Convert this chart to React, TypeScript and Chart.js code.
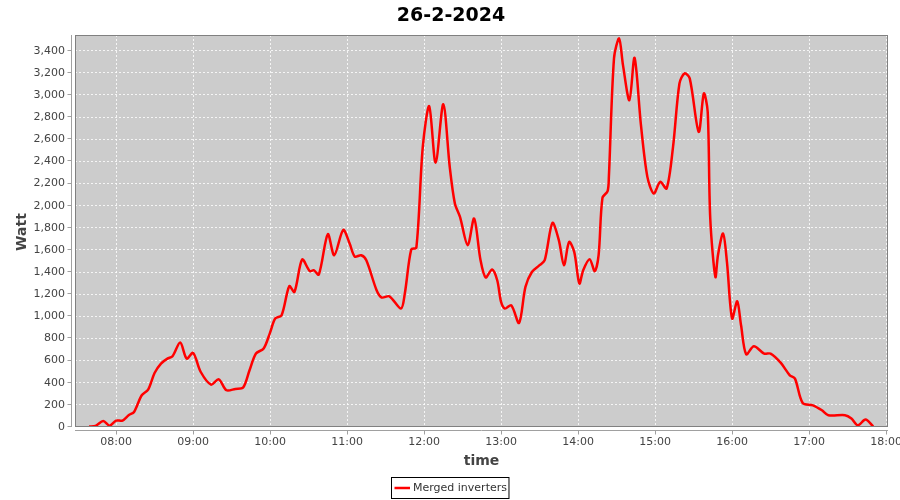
import React, { useEffect, useRef } from "react";
import { Chart, registerables } from "chart.js";

Chart.register(...registerables);

const TITLE = "26-2-2024";
const SERIES_LABEL = "Merged inverters";
const X_TITLE = "time";
const Y_TITLE = "Watt";

const times = [
  "07:39", "07:44", "07:50", "07:55", "08:00", "08:05", "08:10", "08:14", "08:20", "08:25",
  "08:30", "08:35", "08:40", "08:44", "08:50", "08:55", "09:00", "09:06", "09:14", "09:20",
  "09:26", "09:33", "09:39", "09:44", "09:49", "09:55", "10:00", "10:04", "10:09", "10:15",
  "10:19", "10:25", "10:31", "10:34", "10:38", "10:45", "10:50", "10:57", "11:02", "11:06",
  "11:11", "11:15", "11:23", "11:27", "11:33", "11:42", "11:45", "11:50", "11:54", "11:59",
  "12:04", "12:09", "12:15", "12:20", "12:24", "12:28", "12:34", "12:39", "12:44", "12:48",
  "12:53", "12:57", "13:00", "13:03", "13:08", "13:14", "13:19", "13:24", "13:30", "13:34",
  "13:40", "13:45", "13:49", "13:53", "13:57", "14:01", "14:04", "14:09", "14:13", "14:16",
  "14:19", "14:23", "14:24", "14:28", "14:32", "14:35", "14:40", "14:44", "14:49", "14:54",
  "14:59", "15:04", "15:09", "15:14", "15:19", "15:23", "15:27", "15:34", "15:38", "15:41",
  "15:43", "15:47", "15:49", "15:53", "15:56", "16:00", "16:04", "16:07", "16:11", "16:17",
  "16:25", "16:30", "16:38", "16:45", "16:49", "16:55", "17:03", "17:10", "17:15", "17:28",
  "17:33", "17:38", "17:44", "17:50",
];

const watts = [
  5, 10, 54, 12, 58, 58, 108, 136, 287, 338,
  488, 573, 618, 639, 763, 618, 669, 497, 383, 431,
  332, 344, 356, 513, 664, 709, 853, 980, 1010, 1272,
  1220, 1513, 1408, 1417, 1378, 1742, 1552, 1780, 1658, 1540,
  1552, 1507, 1236, 1170, 1181, 1070, 1206, 1604, 1622, 2531,
  2899, 2387, 2917, 2350, 2020, 1898, 1643, 1884, 1507, 1351,
  1423, 1326, 1130, 1070, 1100, 940, 1266, 1401, 1462, 1507,
  1844, 1688, 1462, 1672, 1582, 1296, 1417, 1516, 1408, 1552,
  2070, 2131, 2260, 3330, 3511, 3270, 2953, 3336, 2727, 2260,
  2110, 2215, 2155, 2531, 3104, 3195, 3150, 2667, 3014, 2848,
  1884, 1356, 1552, 1748, 1492, 980, 1136, 919, 657, 730,
  663, 663, 579, 467, 437, 217, 196, 151, 106, 106,
  76, 15, 67, 6,
];

// axis bounds (minutes after midnight / watt)
const X_MIN = 448;
const X_MAX = 1081.5;
const X_STEP = 60;
const Y_MIN = 0;
const Y_MAX = 3542;
const Y_STEP = 200;

const FONT = "'DejaVu Sans', sans-serif";

const toMinutes = (s: string) => {
  const [h, m] = s.split(":").map(Number);
  return h * 60 + m;
};
const fmtTime = (v: number) => {
  const h = Math.floor(v / 60);
  const m = Math.round(v - h * 60);
  return String(h).padStart(2, "0") + ":" + String(m).padStart(2, "0");
};

const framePlugin = {
  id: "frame",
  beforeDraw(chart: any) {
    const { ctx, chartArea: a } = chart;
    ctx.save();
    ctx.fillStyle = "#cccccc";
    ctx.fillRect(a.left, a.top, a.right - a.left, a.bottom - a.top);
    ctx.restore();
  },
  afterDraw(chart: any) {
    const { ctx, chartArea: a, scales } = chart;
    ctx.save();
    // plot outline
    ctx.strokeStyle = "#808080";
    ctx.lineWidth = 1;
    ctx.strokeRect(a.left + 0.5, a.top + 0.5, a.right - a.left - 1, a.bottom - a.top - 1);

    // axis lines with tick marks
    ctx.strokeStyle = "#a0a0a0";
    ctx.beginPath();
    const ax = a.left - 3.5;
    ctx.moveTo(ax, a.top);
    ctx.lineTo(ax, a.bottom);
    scales.y.ticks.forEach((t: any) => {
      const py = Math.round(scales.y.getPixelForValue(t.value)) - 0.5;
      ctx.moveTo(ax - 4, py);
      ctx.lineTo(ax, py);
    });
    const ay = a.bottom + 3.5;
    ctx.moveTo(a.left, ay);
    ctx.lineTo(a.right, ay);
    scales.x.ticks.forEach((t: any) => {
      const px = Math.round(scales.x.getPixelForValue(t.value)) + 0.5;
      ctx.moveTo(px, ay);
      ctx.lineTo(px, ay + 4);
    });
    ctx.stroke();

    // title
    ctx.fillStyle = "#000000";
    ctx.font = `bold 19px ${FONT}`;
    ctx.textAlign = "center";
    ctx.textBaseline = "alphabetic";
    ctx.fillText(TITLE, 451, 21);

    // x title
    ctx.fillStyle = "#444444";
    ctx.font = `bold 14px ${FONT}`;
    ctx.fillText(X_TITLE, (a.left + a.right) / 2, 465);

    // y title
    ctx.save();
    ctx.translate(26, (a.top + a.bottom) / 2 + 1);
    ctx.rotate(-Math.PI / 2);
    ctx.fillText(Y_TITLE, 0, 0);
    ctx.restore();

    // legend
    ctx.font = `11px ${FONT}`;
    const w = ctx.measureText(SERIES_LABEL).width;
    const total = 3 + 15.5 + 3 + w + 2;
    const left = Math.round(450 - total / 2) + 0.5;
    const top = 477.5;
    const h = 21;
    ctx.strokeStyle = "#000000";
    ctx.lineWidth = 1;
    ctx.strokeRect(left, top, total, h);
    ctx.strokeStyle = "#ff0000";
    ctx.lineWidth = 2.5;
    ctx.beginPath();
    ctx.moveTo(left + 3, top + 10.5);
    ctx.lineTo(left + 18.5, top + 10.5);
    ctx.stroke();
    ctx.fillStyle = "#333333";
    ctx.textAlign = "left";
    ctx.textBaseline = "middle";
    ctx.fillText(SERIES_LABEL, left + 21.5, top + 11);
    ctx.restore();
  },
};

export default function App() {
  const ref = useRef<HTMLCanvasElement | null>(null);

  useEffect(() => {
    if (!ref.current) return;
    const points = times.map((t, i) => ({ x: toMinutes(t), y: watts[i] }));
    const chart = new Chart(ref.current, {
      type: "line",
      data: {
        datasets: [
          {
            label: SERIES_LABEL,
            data: points,
            borderColor: "#ff0000",
            backgroundColor: "#ff0000",
            borderWidth: 2.5,
            pointRadius: 0,
            tension: 0.3,
            fill: false,
          },
        ],
      },
      options: {
        animation: false,
        responsive: false,
        devicePixelRatio: 1,
        layout: { padding: { top: 35, right: 12, bottom: 0, left: 0 } },
        plugins: {
          legend: { display: false },
          title: { display: false },
          tooltip: { enabled: false },
        },
        scales: {
          x: {
            type: "linear",
            min: X_MIN,
            max: X_MAX,
            grid: {
              color: "rgba(255,255,255,0.8)",
              lineWidth: 1,
              drawTicks: false,
            },
            border: { display: false, dash: [2, 2] },
            ticks: {
              stepSize: X_STEP,
              includeBounds: false,
              autoSkip: false,
              maxRotation: 0,
              padding: 9,
              color: "#444444",
              font: { family: FONT, size: 11 },
              callback: (v: any) => fmtTime(Number(v)),
            },
            afterFit: (s: any) => {
              s.height = 73;
              s.paddingLeft = 0;
              s.paddingRight = 0;
            },
          },
          y: {
            type: "linear",
            min: Y_MIN,
            max: Y_MAX,
            grid: {
              color: "rgba(255,255,255,0.8)",
              lineWidth: 1,
              drawTicks: false,
            },
            border: { display: false, dash: [2, 2] },
            ticks: {
              stepSize: Y_STEP,
              includeBounds: false,
              autoSkip: false,
              padding: 10,
              color: "#444444",
              font: { family: FONT, size: 11 },
              callback: (v: any) => Number(v).toLocaleString("en-US"),
            },
            afterFit: (s: any) => {
              s.width = 75;
              s.paddingTop = 0;
              s.paddingBottom = 0;
            },
          },
        },
      },
      plugins: [framePlugin],
    });
    return () => chart.destroy();
  }, []);

  return (
    <div style={{ position: "fixed", left: 0, top: 0, width: 900, height: 500, background: "#ffffff" }}>
      <canvas ref={ref} width={900} height={500} style={{ display: "block" }} />
    </div>
  );
}
